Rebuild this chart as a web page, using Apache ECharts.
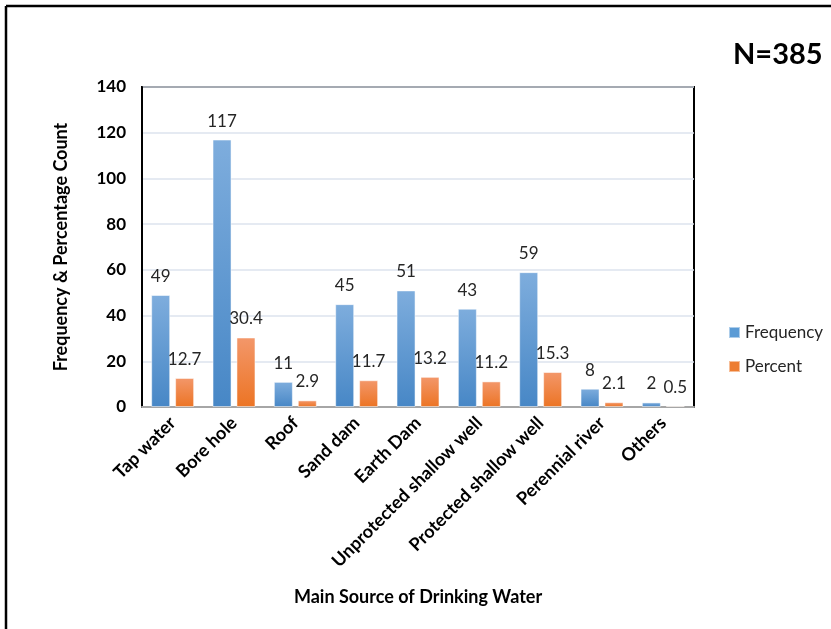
<!DOCTYPE html>
<html>
<head>
<meta charset="utf-8">
<style>
  html, body { margin: 0; padding: 0; background: #fff; }
  #chart { width: 831px; height: 629px; }
</style>
<script src="https://cdn.jsdelivr.net/npm/echarts@6/dist/echarts.min.js"></script>
</head>
<body>
<div id="chart"></div>
<script>
// Main source of drinking water (N=385)
const categories = ['Tap water', 'Bore hole', 'Roof', 'Sand dam', 'Earth Dam',
  'Unprotected shallow well', 'Protected shallow well', 'Perennial river', 'Others'];
const frequency = [49, 117, 11, 45, 51, 43, 59, 8, 2];
const percent = [12.7, 30.4, 2.9, 11.7, 13.2, 11.2, 15.3, 2.1, 0.5];
const yTicks = { min: 0, max: 140, interval: 20 };

const FONT = 'Lato, "Open Sans", sans-serif';

const chart = echarts.init(document.getElementById('chart'), null, { renderer: 'canvas' });

function grad(top, bottom) {
  return new echarts.graphic.LinearGradient(0, 0, 0, 1, [
    { offset: 0, color: top },
    { offset: 1, color: bottom }
  ]);
}

const valueLabel = {
  show: true,
  position: 'top',
  distance: 10,
  fontFamily: FONT,
  fontSize: 17,
  color: '#262626'
};

chart.setOption({
  animation: false,
  backgroundColor: '#fff',
  textStyle: { fontFamily: FONT },
  grid: {
    left: 142, right: 137, top: 87, bottom: 222,
    show: true, borderColor: '#000', borderWidth: 2, backgroundColor: 'transparent'
  },
  legend: {
    orient: 'vertical',
    left: 723, top: 319,
    itemWidth: 11, itemHeight: 11, itemGap: 17,
    icon: 'rect',
    textStyle: { fontFamily: FONT, fontSize: 17, color: '#262626' },
    data: [
      { name: 'Frequency', itemStyle: { color: '#5b9bd5' } },
      { name: 'Percent', itemStyle: { color: '#ed7d31' } }
    ]
  },
  xAxis: {
    type: 'category',
    data: categories,
    name: 'Main Source of Drinking Water',
    nameLocation: 'middle',
    nameGap: 181,
    nameTextStyle: { fontFamily: FONT, fontSize: 18, fontWeight: 'bold', color: '#000' },
    axisLine: { lineStyle: { color: '#a6a6a6', width: 2 } },
    axisTick: { show: false },
    axisLabel: {
      interval: 0, rotate: 45, margin: 13,
      fontFamily: FONT, fontSize: 18, fontWeight: 'bold', color: '#000'
    }
  },
  yAxis: {
    type: 'value',
    min: yTicks.min, max: yTicks.max, interval: yTicks.interval,
    name: 'Frequency & Percentage Count',
    nameLocation: 'middle',
    nameGap: 72,
    nameTextStyle: { fontFamily: FONT, fontSize: 18, fontWeight: 'bold', color: '#000' },
    axisLine: { show: true, lineStyle: { color: '#000', width: 2 } },
    axisTick: { show: false },
    axisLabel: { margin: 16, fontFamily: FONT, fontSize: 17, fontWeight: 'bold', color: '#000' },
    splitLine: { lineStyle: { color: '#dce3ee', width: 1.5 } }
  },
  series: [
    {
      name: 'Frequency',
      type: 'bar',
      data: frequency,
      barWidth: 19,
      barGap: '26%',
      itemStyle: { color: grad('#7eaddd', '#4787c6'), borderColor: 'rgba(255,255,255,0.5)', borderWidth: 1 },
      label: valueLabel
    },
    {
      name: 'Percent',
      type: 'bar',
      data: percent,
      barWidth: 19,
      itemStyle: { color: grad('#f3976a', '#ec7424'), borderColor: 'rgba(255,255,255,0.5)', borderWidth: 1 },
      label: valueLabel
    }
  ],
  graphic: [
    // outer frame: top and left edges
    { type: 'line', shape: { x1: 6, y1: 6, x2: 831, y2: 6 }, style: { stroke: '#000', lineWidth: 2.5 } },
    { type: 'line', shape: { x1: 6, y1: 6, x2: 6, y2: 629 }, style: { stroke: '#000', lineWidth: 2.5 } },
    {
      type: 'text', left: 733, top: 40,
      style: { text: 'N=385', font: 'bold 29px ' + FONT, fill: '#000' }
    }
  ]
});
</script>
</body>
</html>
